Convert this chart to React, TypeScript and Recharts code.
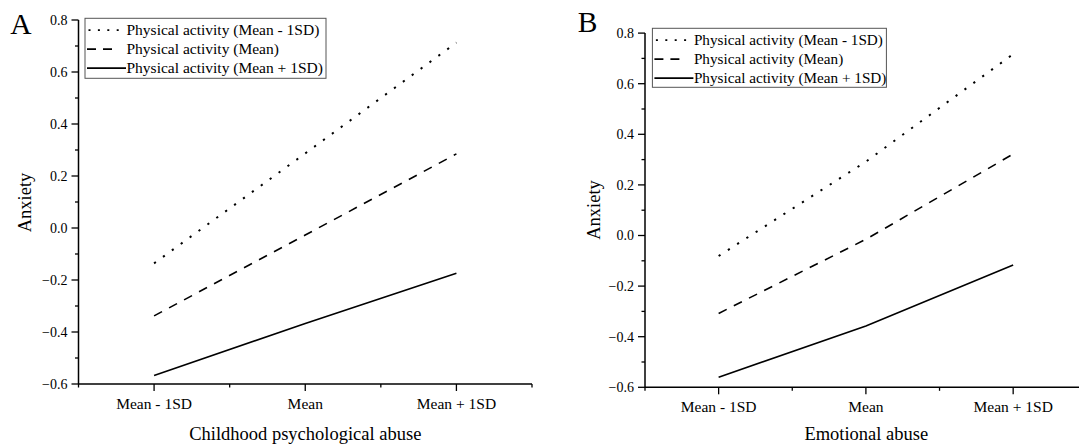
import React from 'react';
import { LineChart, Line, XAxis, YAxis, Customized } from 'recharts';

// ---------- data ----------
const categories = ['Mean - 1SD', 'Mean', 'Mean + 1SD'];
const seriesNames = [
  'Physical activity (Mean - 1SD)',
  'Physical activity (Mean)',
  'Physical activity (Mean + 1SD)',
];
// Panel A: Childhood psychological abuse
const aLow = [-0.136, 0.287, 0.713];
const aMid = [-0.338, -0.027, 0.285];
const aHigh = [-0.567, -0.367, -0.174];
// Panel B: Emotional abuse
const bLow = [-0.081, 0.292, 0.717];
const bMid = [-0.308, -0.015, 0.322];
const bHigh = [-0.56, -0.358, -0.117];

const yTicks = [-0.6, -0.5, -0.4, -0.3, -0.2, -0.1, 0, 0.1, 0.2, 0.3, 0.4, 0.5, 0.6, 0.7, 0.8];
const xTicks = [-0.5, 0, 0.5, 1, 1.5, 2, 2.5];

const FONT = '"Liberation Serif", "Times New Roman", serif';
const styles = ['2.2 8.8', '9 8', undefined];
const widths = [2, 1.6, 1.6];

function buildRows(lo: number[], mid: number[], hi: number[]) {
  return categories.map((c, i) => ({ x: i, name: c, lo: lo[i], mid: mid[i], hi: hi[i] }));
}

const fmt = (v: number) => v.toFixed(1).replace('-', '\u2212');

const YTick = (props: any) => {
  const { x, y, payload } = props;
  const v = payload.value as number;
  const major = Math.round(v * 10) % 2 === 0;
  return (
    <g>
      <line x1={x - (major ? 7 : 3.5)} x2={x} y1={y} y2={y} stroke="#000" strokeWidth={1.3} />
      {major && (
        <text x={x - 11} y={y} dy={4.8} textAnchor="end" fontSize={14} fontFamily={FONT} fill="#000">
          {fmt(v)}
        </text>
      )}
    </g>
  );
};

const XTick = (props: any) => {
  const { x, y, payload } = props;
  const v = payload.value as number;
  const major = Number.isInteger(v);
  return (
    <g>
      <line x1={x} x2={x} y1={y} y2={y + (major ? 7 : 3.5)} stroke="#000" strokeWidth={1.3} />
      {major && (
        <text x={x} y={y + 24.5} textAnchor="middle" fontSize={15.5} fontFamily={FONT} fill="#000">
          {categories[v]}
        </text>
      )}
    </g>
  );
};

type PanelProps = {
  rows: any[];
  width: number;
  margin: { top: number; right: number; bottom: number; left: number };
  letter: string;
  letterX: number;
  letterY: number;
  xTitle: string;
  xTitleX: number;
  yTitleX: number;
  yTitleY: number;
  legendX: number;
  legendY: number;
  legendW: number;
  legendH: number;
  legendFont: number;
};

const Panel = (p: PanelProps) => {
  const legend = () => (
    <g>
      <rect x={p.legendX} y={p.legendY} width={p.legendW} height={p.legendH} fill="#fff" stroke="#555" strokeWidth={1} />
      {seriesNames.map((n, i) => {
        const base = p.legendY + 16.8 + i * 19;
        const ly = base - 5;
        return (
          <g key={n}>
            {i === 0 && (
              <line x1={p.legendX + 3.5} x2={p.legendX + 41} y1={ly} y2={ly} stroke="#000" strokeWidth={1.8} strokeDasharray="2 7.4" />
            )}
            {i === 1 && (
              <line x1={p.legendX + 2} x2={p.legendX + 27} y1={ly} y2={ly} stroke="#000" strokeWidth={1.6} strokeDasharray="9 7" />
            )}
            {i === 2 && (
              <line x1={p.legendX + 2} x2={p.legendX + 41} y1={ly} y2={ly} stroke="#000" strokeWidth={1.6} />
            )}
            <text x={p.legendX + 41.5} y={base} fontSize={p.legendFont} fontFamily={FONT} fill="#000">
              {n}
            </text>
          </g>
        );
      })}
    </g>
  );
  const labels = () => (
    <g>
      <text x={p.letterX} y={p.letterY} textAnchor="middle" fontSize={29.5} fontFamily={FONT} fill="#000">
        {p.letter}
      </text>
      <text x={p.xTitleX} y={439.5} textAnchor="middle" fontSize={18.5} fontFamily={FONT} fill="#000">
        {p.xTitle}
      </text>
      <text
        x={p.yTitleX}
        y={p.yTitleY}
        textAnchor="middle"
        fontSize={18.5}
        fontFamily={FONT}
        fill="#000"
        transform={`rotate(-90 ${p.yTitleX} ${p.yTitleY})`}
      >
        Anxiety
      </text>
    </g>
  );
  return (
    <LineChart width={p.width} height={445} data={p.rows} margin={p.margin}>
      <XAxis
        dataKey="x"
        type="number"
        domain={[-0.5, 2.5]}
        ticks={xTicks}
        interval={0}
        height={40}
        tickSize={0}
        tickMargin={0}
        tickLine={false}
        axisLine={{ stroke: '#000', strokeWidth: 1.5 }}
        tick={<XTick />}
      />
      <YAxis
        type="number"
        domain={[-0.6, 0.8]}
        ticks={yTicks}
        interval={0}
        width={60}
        tickSize={0}
        tickMargin={0}
        tickLine={false}
        axisLine={{ stroke: '#000', strokeWidth: 1.5 }}
        tick={<YTick />}
      />
      {(['lo', 'mid', 'hi'] as const).map((k, i) => (
        <Line
          key={k}
          dataKey={k}
          type="linear"
          stroke="#000"
          strokeWidth={widths[i]}
          strokeDasharray={styles[i]}
          dot={false}
          activeDot={false}
          isAnimationActive={false}
        />
      ))}
      <Customized component={legend} />
      <Customized component={labels} />
    </LineChart>
  );
};

export default function App() {
  const rowsA = buildRows(aLow, aMid, aHigh);
  const rowsB = buildRows(bLow, bMid, bHigh);
  return (
    <div style={{ position: 'absolute', left: 0, top: 0, width: 1079, height: 445, overflow: 'hidden', background: '#fff' }}>
      <div style={{ position: 'absolute', left: 0, top: 0 }}>
        <Panel
          rows={rowsA}
          width={540}
          margin={{ top: 20, right: 8, bottom: 21, left: 18.5 }}
          letter="A"
          letterX={21}
          letterY={34.3}
          xTitle="Childhood psychological abuse"
          xTitleX={305.3}
          yTitleX={31}
          yTitleY={202.5}
          legendX={85}
          legendY={18.3}
          legendW={241}
          legendH={60}
          legendFont={15.5}
        />
      </div>
      <div style={{ position: 'absolute', left: 540, top: 0 }}>
        <Panel
          rows={rowsB}
          width={550}
          margin={{ top: 33.1, right: 3.2, bottom: 17.7, left: 45 }}
          letter="B"
          letterX={47.5}
          letterY={31.7}
          xTitle="Emotional abuse"
          xTitleX={326.3}
          yTitleX={59.6}
          yTitleY={210}
          legendX={112.4}
          legendY={28.3}
          legendW={234}
          legendH={59}
          legendFont={15.2}
        />
      </div>
    </div>
  );
}
